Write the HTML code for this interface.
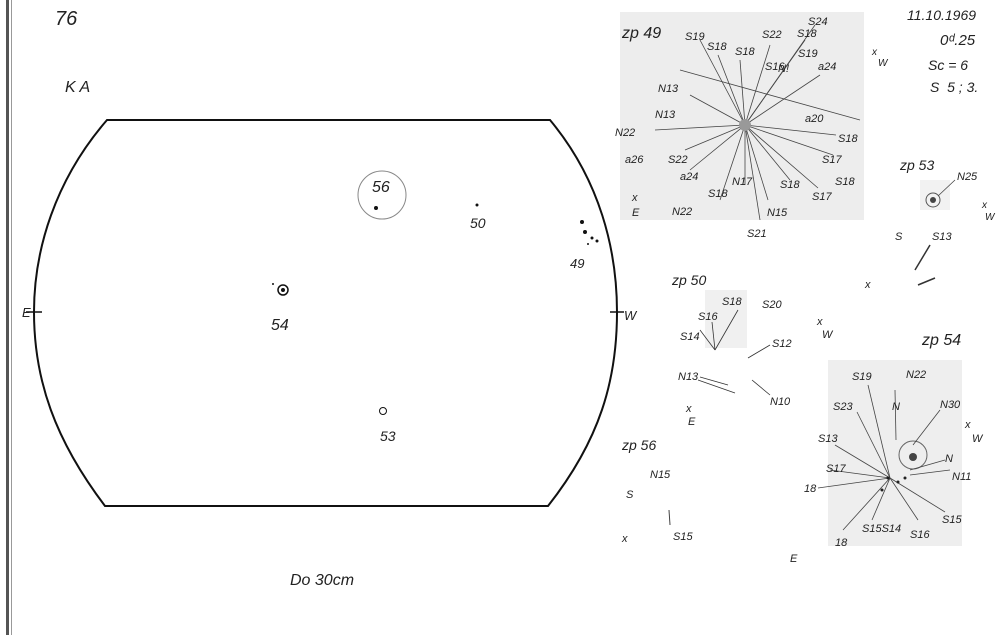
<!DOCTYPE html>
<html><head><meta charset="utf-8"><style>
html,body{margin:0;padding:0;background:#fff;}
svg{display:block}
text{font-family:"Liberation Sans",sans-serif;fill:#222;font-style:italic}
</style></head><body>
<svg width="1007" height="635" viewBox="0 0 1007 635" xmlns="http://www.w3.org/2000/svg">
<rect width="1007" height="635" fill="#fff"/>
<rect x="6" y="0" width="3" height="635" fill="#555"/>
<rect x="11" y="0" width="1" height="635" fill="#999"/>
<rect x="620" y="12" width="244" height="208" fill="#ededed"/>
<rect x="828" y="360" width="134" height="186" fill="#eeeeee"/>
<rect x="705" y="290" width="42" height="58" fill="#f0f0f0"/>
<rect x="920" y="180" width="30" height="30" fill="#f2f2f2"/>
<path d="M107,120 L550,120 C600,180 617,250 617,312 C617,380 600,440 548,506 L105,506 C55,440 34,380 34,312 C34,250 55,180 107,120 Z" fill="none" stroke="#111" stroke-width="2"/>
<line x1="26" y1="312" x2="42" y2="312" stroke="#111" stroke-width="1.5"/>
<line x1="610" y1="312" x2="624" y2="312" stroke="#111" stroke-width="1.5"/>
<text x="22" y="317" font-size="13">E</text>
<text x="624" y="320" font-size="13">W</text>
<text x="55" y="25" font-size="20" fill="#666">76</text>
<text x="65" y="92" font-size="16" fill="#444">K A</text>
<circle cx="382" cy="195" r="24" fill="none" stroke="#888" stroke-width="1"/>
<text x="372" y="192" font-size="16">56</text>
<circle cx="376" cy="208" r="2" fill="#111"/>
<circle cx="477" cy="205" r="1.5" fill="#111"/>
<text x="470" y="228" font-size="14">50</text>
<circle cx="283" cy="290" r="5" fill="none" stroke="#111" stroke-width="1.5"/>
<circle cx="283" cy="290" r="2" fill="#111"/>
<circle cx="273" cy="284" r="1" fill="#111"/>
<text x="271" y="330" font-size="16">54</text>
<circle cx="383" cy="411" r="3.5" fill="none" stroke="#111"/>
<text x="380" y="441" font-size="14">53</text>
<circle cx="582" cy="222" r="2" fill="#111"/><circle cx="585" cy="232" r="2" fill="#111"/>
<circle cx="592" cy="238" r="1.5" fill="#111"/><circle cx="597" cy="241" r="1.5" fill="#111"/>
<circle cx="588" cy="244" r="1" fill="#111"/>
<text x="570" y="268" font-size="13">49</text>
<text x="290" y="585" font-size="16">Do 30cm</text>
<text x="622" y="38" font-size="16">zp 49</text>
<text x="907" y="20" font-size="14">11.10.1969</text>
<text x="940" y="45" font-size="15">0ᵈ.25</text>
<text x="928" y="70" font-size="14">Sc = 6</text>
<text x="930" y="92" font-size="14">S &#160;5 ; 3.</text>
<text x="872" y="55" font-size="10">x</text><text x="878" y="66" font-size="10">W</text>
<g stroke="#444" stroke-width="0.8">
<line x1="745" y1="125" x2="700" y2="40"/><line x1="745" y1="125" x2="718" y2="55"/>
<line x1="745" y1="125" x2="740" y2="60"/><line x1="745" y1="125" x2="770" y2="45"/>
<line x1="745" y1="125" x2="805" y2="40"/><line x1="745" y1="125" x2="815" y2="25"/>
<line x1="745" y1="125" x2="820" y2="75"/><line x1="745" y1="125" x2="690" y2="95"/>
<line x1="745" y1="125" x2="655" y2="130"/><line x1="745" y1="125" x2="685" y2="150"/>
<line x1="745" y1="125" x2="690" y2="170"/><line x1="745" y1="125" x2="720" y2="200"/>
<line x1="745" y1="125" x2="745" y2="185"/><line x1="745" y1="125" x2="768" y2="200"/>
<line x1="745" y1="125" x2="790" y2="180"/><line x1="745" y1="125" x2="818" y2="188"/>
<line x1="745" y1="125" x2="833" y2="155"/><line x1="745" y1="125" x2="836" y2="135"/>
<line x1="745" y1="125" x2="760" y2="220"/>
<line x1="680" y1="70" x2="860" y2="120"/>
</g>
<g font-size="11">
<text x="685" y="40">S19</text><text x="707" y="50">S18</text><text x="735" y="55">S18</text>
<text x="762" y="38">S22</text><text x="797" y="37">S18</text><text x="808" y="25">S24</text>
<text x="765" y="70">S16</text><text x="778" y="72">N!</text><text x="798" y="57">S19</text>
<text x="818" y="70">a24</text><text x="658" y="92">N13</text><text x="655" y="118">N13</text>
<text x="615" y="136">N22</text><text x="625" y="163">a26</text><text x="668" y="163">S22</text>
<text x="680" y="180">a24</text><text x="672" y="215">N22</text><text x="708" y="197">S18</text>
<text x="732" y="185">N17</text><text x="767" y="216">N15</text><text x="780" y="188">S18</text>
<text x="812" y="200">S17</text><text x="835" y="185">S18</text><text x="822" y="163">S17</text>
<text x="838" y="142">S18</text><text x="805" y="122">a20</text><text x="747" y="237">S21</text>
<text x="632" y="201">x</text><text x="632" y="216">E</text>
</g>
<circle cx="745" cy="125" r="6" fill="#999"/>
<text x="900" y="170" font-size="14">zp 53</text>
<circle cx="933" cy="200" r="7" fill="none" stroke="#555"/><circle cx="933" cy="200" r="3" fill="#444"/>
<line x1="938" y1="196" x2="955" y2="180" stroke="#444" stroke-width="0.8"/>
<text x="957" y="180" font-size="11">N25</text>
<text x="982" y="208" font-size="10">x</text><text x="985" y="220" font-size="10">W</text>
<text x="895" y="240" font-size="11">S</text><text x="932" y="240" font-size="11">S13</text>
<line x1="915" y1="270" x2="930" y2="245" stroke="#333" stroke-width="1.5"/>
<line x1="918" y1="285" x2="935" y2="278" stroke="#333" stroke-width="1.5"/>
<text x="865" y="288" font-size="11">x</text>
<text x="672" y="285" font-size="14">zp 50</text>
<g font-size="11"><text x="680" y="340">S14</text><text x="698" y="320">S16</text><text x="722" y="305">S18</text>
<text x="762" y="308">S20</text><text x="772" y="347">S12</text><text x="678" y="380">N13</text>
<text x="770" y="405">N10</text><text x="817" y="325">x</text><text x="822" y="338">W</text>
<text x="686" y="412">x</text><text x="688" y="425">E</text></g>
<g stroke="#333" stroke-width="0.8"><line x1="715" y1="350" x2="700" y2="330"/><line x1="715" y1="350" x2="712" y2="322"/>
<line x1="715" y1="350" x2="738" y2="310"/><line x1="748" y1="358" x2="770" y2="345"/>
<line x1="698" y1="380" x2="735" y2="393"/><line x1="700" y1="377" x2="728" y2="385"/><line x1="752" y1="380" x2="770" y2="395"/></g>
<text x="922" y="345" font-size="16">zp 54</text>
<circle cx="913" cy="455" r="14" fill="none" stroke="#666"/><circle cx="913" cy="457" r="4" fill="#444"/>
<g stroke="#444" stroke-width="0.8">
<line x1="890" y1="478" x2="868" y2="385"/><line x1="890" y1="478" x2="857" y2="412"/>
<line x1="890" y1="478" x2="835" y2="445"/><line x1="890" y1="478" x2="830" y2="470"/>
<line x1="890" y1="478" x2="818" y2="488"/><line x1="890" y1="478" x2="843" y2="530"/>
<line x1="890" y1="478" x2="872" y2="520"/><line x1="890" y1="478" x2="918" y2="520"/>
<line x1="890" y1="478" x2="945" y2="512"/><line x1="913" y1="445" x2="940" y2="410"/>
<line x1="910" y1="470" x2="945" y2="460"/><line x1="910" y1="475" x2="950" y2="470"/>
<line x1="895" y1="390" x2="896" y2="440"/></g>
<g font-size="11"><text x="852" y="380">S19</text><text x="906" y="378">N22</text><text x="940" y="408">N30</text>
<text x="892" y="410">N</text><text x="833" y="410">S23</text><text x="818" y="442">S13</text>
<text x="826" y="472">S17</text><text x="804" y="492">18</text><text x="835" y="546">18</text>
<text x="862" y="532">S15S14</text><text x="910" y="538">S16</text><text x="942" y="523">S15</text>
<text x="945" y="462">N</text><text x="952" y="480">N11</text><text x="965" y="428">x</text><text x="972" y="442">W</text>
<text x="790" y="562">E</text></g>
<g fill="#222"><circle cx="888" cy="478" r="1.5"/><circle cx="898" cy="482" r="1.5"/><circle cx="905" cy="478" r="1.5"/><circle cx="882" cy="490" r="1.5"/></g>
<text x="622" y="450" font-size="14">zp 56</text>
<g font-size="11"><text x="650" y="478">N15</text><text x="626" y="498">S</text><text x="622" y="542">x</text>
<text x="673" y="540">S15</text></g>
<line x1="669" y1="510" x2="670" y2="525" stroke="#444"/>
</svg>
</body></html>
